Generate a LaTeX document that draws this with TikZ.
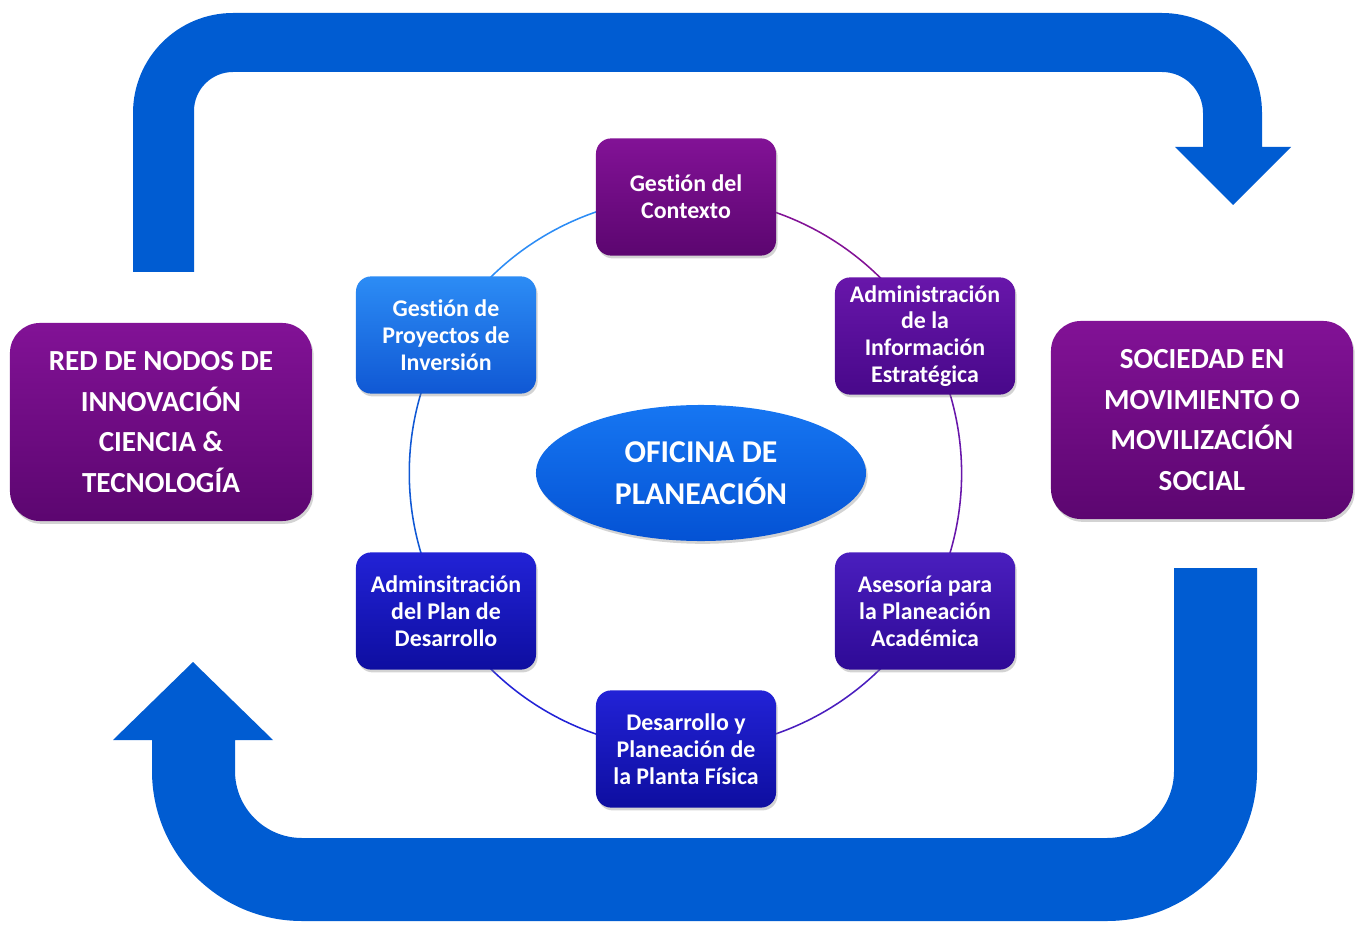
\documentclass[tikz,border=0pt]{standalone}
\usepackage{fontspec}
\setmainfont{Carlito}[Ligatures=NoCommon]
\usetikzlibrary{shadows,shapes.geometric,backgrounds}
\definecolor{bandblue}{RGB}{0,92,210}
\definecolor{plumT}{RGB}{130,18,150}
\definecolor{plumB}{RGB}{92,6,112}
\definecolor{violetT}{RGB}{104,22,170}
\definecolor{violetB}{RGB}{72,8,138}
\definecolor{indigoT}{RGB}{74,30,190}
\definecolor{indigoB}{RGB}{46,10,150}
\definecolor{royalT}{RGB}{34,34,214}
\definecolor{royalB}{RGB}{14,14,160}
\definecolor{skyT}{RGB}{44,140,245}
\definecolor{skyB}{RGB}{16,88,212}
\definecolor{hubT}{RGB}{22,118,242}
\definecolor{hubB}{RGB}{4,82,212}
\tikzstyle{box}=[rectangle, rounded corners=0.38cm, minimum width=4.5cm, minimum height=2.93cm, inner sep=0pt, align=center, text=white, font=\fontsize{17}{19.1}\selectfont\bfseries, drop shadow={opacity=0.35, shadow xshift=0.04cm, shadow yshift=-0.07cm}]
\tikzstyle{bigbox}=[box, rounded corners=0.75cm, minimum width=7.55cm, minimum height=4.95cm, font=\fontsize{20.7}{29}\selectfont\bfseries, top color=plumT, bottom color=plumB]
\tikzstyle{hub}=[ellipse, minimum width=8.25cm, minimum height=3.4cm, inner sep=0pt, align=center, text=white, font=\fontsize{22.6}{29.7}\selectfont\bfseries, top color=hubT, bottom color=hubB, drop shadow={opacity=0.35, shadow xshift=0.04cm, shadow yshift=-0.07cm}]
\tikzstyle{band}=[drop shadow={opacity=0.25, shadow xshift=0.05cm, shadow yshift=-0.07cm}, preaction={draw=white, line width=8pt, line join=round}, fill=bandblue]
\tikzstyle{rim}=[line width=1.1pt, bend left=30, looseness=0.91]
\tikzset{tone/.style 2 args={top color=#1, bottom color=#2}}

\begin{document}
\begin{tikzpicture}[x=0.025cm, y=-0.025cm]
	\useasboundingbox (0,0) rectangle (1359,931);

	% upper band, pointing down on the right
	\path[band] (133,272) -- (133,113) arc[start angle=180, end angle=270, radius=100]
		-- (1162,13) arc[start angle=270, end angle=360, radius=100]
		-- (1262,147) -- (1291,147) -- (1233,205) -- (1175,147) -- (1203,147)
		-- (1203,113) arc[start angle=0, end angle=-90, radius=41]
		-- (233,72) arc[start angle=270, end angle=180, radius=39]
		-- (194,272) -- cycle;
	% lower band, pointing up on the left
	\path[band] (1174,568) -- (1257,568) -- (1257,771) arc[start angle=0, end angle=90, radius=150]
		-- (302,921) arc[start angle=90, end angle=180, radius=150]
		-- (152,740) -- (113,740) -- (193,662) -- (273,740) -- (235,740)
		-- (235,771) arc[start angle=180, end angle=90, radius=67]
		-- (1107,838) arc[start angle=90, end angle=0, radius=67] -- cycle;

	\node[bigbox] (network) at (161,422) {RED DE NODOS DE\\INNOVACIÓN\\CIENCIA \&\\TECNOLOGÍA};
	\node[bigbox] (society) at (1202,420) {SOCIEDAD EN\\MOVIMIENTO O\\MOVILIZACIÓN\\SOCIAL};

	\node[box, tone={plumT}{plumB}] (context) at (686,197) {Gestión del\\Contexto};
	\node[box, tone={violetT}{violetB}] (info) at (925,336) {Administración\\de la\\Información\\Estratégica};
	\node[box, tone={indigoT}{indigoB}] (advice) at (925,611) {Asesoría para\\la Planeación\\Académica};
	\node[box, tone={royalT}{royalB}] (plant) at (686,749) {Desarrollo y\\Planeación de\\la Planta Física};
	\node[box, tone={royalT}{royalB}] (plan) at (446,611) {Adminsitración\\del Plan de\\Desarrollo};
	\node[box, tone={skyT}{skyB}] (projects) at (446,335) {Gestión de\\Proyectos de\\Inversión};

	\node[hub] (office) at (701,473) {OFICINA DE\\PLANEACIÓN};

	% ring around the office, behind the boxes
	\begin{scope}[on background layer]
		\draw[rim, color=plumT] (context.center) to (info.center);
		\draw[rim, color=violetT] (info.center) to (advice.center);
		\draw[rim, color=indigoT] (advice.center) to (plant.center);
		\draw[rim, color=royalT] (plant.center) to (plan.center);
		\draw[rim, color=skyB] (plan.center) to (projects.center);
		\draw[rim, color=skyT] (projects.center) to (context.center);
	\end{scope}

\end{tikzpicture}
\end{document}
